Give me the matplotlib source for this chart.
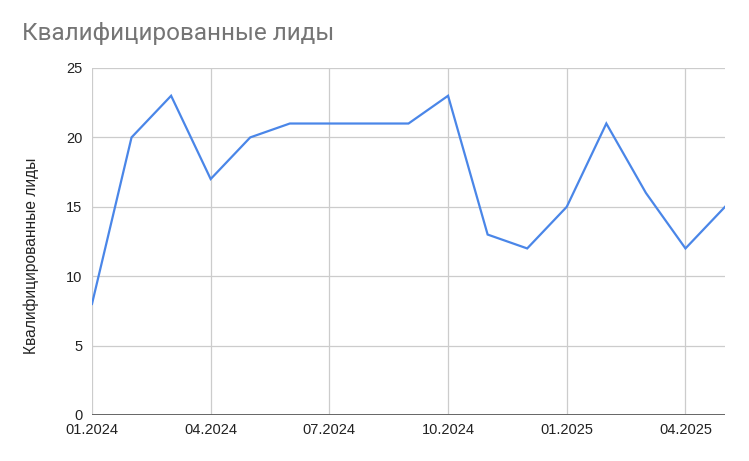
import matplotlib
matplotlib.use("Agg")
import matplotlib.pyplot as plt

# monthly values, 01.2024 .. 05.2025
months = ["01.2024", "02.2024", "03.2024", "04.2024", "05.2024", "06.2024",
          "07.2024", "08.2024", "09.2024", "10.2024", "11.2024", "12.2024",
          "01.2025", "02.2025", "03.2025", "04.2025", "05.2025"]
leads = [8, 20, 23, 17, 20, 21, 21, 21, 21, 23, 13, 12, 15, 21, 16, 12, 15]

title = "Квалифицированные лиды"
y_label = "Квалифицированные лиды"
y_ticks = [0, 5, 10, 15, 20, 25]

fig = plt.figure(figsize=(7.49, 4.61), dpi=100)
ax = fig.add_axes([0.1228, 0.0998, 0.9680 - 0.1228, 0.8525 - 0.0998])

x = list(range(len(months)))
ax.plot(x, leads, color="#4a86e8", linewidth=1.6, solid_joinstyle="miter", zorder=3)

ax.set_xlim(0, len(months) - 1)
ax.set_ylim(0, 25)
ax.set_yticks(y_ticks)
ax.set_yticklabels([str(v) for v in y_ticks])
tick_pos = x[::3]
ax.set_xticks(tick_pos)
ax.set_xticklabels([months[i] for i in tick_pos])

ax.grid(True, color="#cccccc", linewidth=0.9)
ax.axhline(0, color="#666666", linewidth=1.4, zorder=4)
for s in ax.spines.values():
    s.set_visible(False)
ax.tick_params(length=0, labelsize=10.5, colors="#222222")
ax.tick_params(axis="x", pad=6)
ax.tick_params(axis="y", pad=7)
for lbl in ax.get_xticklabels() + ax.get_yticklabels():
    lbl.set_family("Liberation Sans")

ax.set_ylabel(y_label, fontsize=11.2, family="Liberation Sans", color="#222222")
ax.yaxis.set_label_coords(-0.084, 0.46)
fig.text(22 / 749, 1 - 33 / 461, title, fontsize=17.5, color="#757575",
         family="Roboto", va="center", ha="left")

fig.savefig("out.png", dpi=100)
